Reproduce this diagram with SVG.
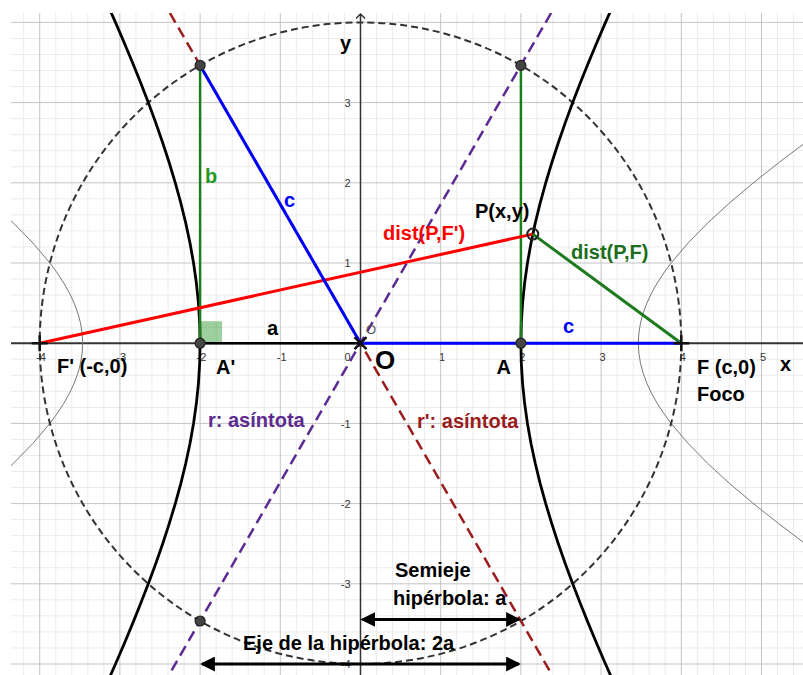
<svg xmlns="http://www.w3.org/2000/svg" width="803" height="675" viewBox="0 0 803 675">
<defs>
<clipPath id="plot"><rect x="11" y="13" width="792" height="662"/></clipPath>
<marker id="ah" markerUnits="userSpaceOnUse" markerWidth="15" markerHeight="15" viewBox="0 0 14 14" refX="12" refY="7" orient="auto-start-reverse"><path d="M0,0 L14,7 L0,14 Z" fill="#000"/></marker>
</defs>
<style>
.minor{stroke:#ebebeb;stroke-width:1;fill:none}
.major{stroke:#c4c4c4;stroke-width:1;fill:none}
.axis{stroke:#333;fill:none}
.tick{font-family:"Liberation Sans",Arial,sans-serif;font-size:11px;fill:#333}
.tx{text-anchor:middle}
.ty{text-anchor:end}
.lbl{font-family:"Liberation Sans",Arial,sans-serif;font-weight:bold;font-size:20px}
.big{font-size:26px}
.dot{fill:#444;stroke:#222;stroke-width:1.2}
.cross{stroke:#111;stroke-width:2.5;fill:none}
.dashc{stroke:#333;stroke-width:2;fill:none;stroke-dasharray:7 4}
.asym{stroke-width:2.5;fill:none;stroke-dasharray:11 6}
.hyp{stroke:#000;stroke-width:2.8;fill:none;stroke-linejoin:round}
.hyp2{stroke:#777;stroke-width:1;fill:none}
.arrow{stroke:#000;stroke-width:3;fill:none;marker-start:url(#ah);marker-end:url(#ah)}
</style>
<rect width="803" height="675" fill="#fff"/>
<g id="grid" clip-path="url(#plot)">
<path class="minor" d="M23.66 13V675M55.74 13V675M71.78 13V675M87.82 13V675M103.86 13V675M135.94 13V675M151.98 13V675M168.02 13V675M184.06 13V675M216.14 13V675M232.18 13V675M248.22 13V675M264.26 13V675M296.34 13V675M312.38 13V675M328.42 13V675M344.46 13V675M376.54 13V675M392.58 13V675M408.62 13V675M424.66 13V675M456.74 13V675M472.78 13V675M488.82 13V675M504.86 13V675M536.94 13V675M552.98 13V675M569.02 13V675M585.06 13V675M617.14 13V675M633.18 13V675M649.22 13V675M665.26 13V675M697.34 13V675M713.38 13V675M729.42 13V675M745.46 13V675M777.54 13V675M793.58 13V675
M11 38.44H803M11 54.48H803M11 70.52H803M11 86.56H803M11 118.64H803M11 134.68H803M11 150.72H803M11 166.76H803M11 198.84H803M11 214.88H803M11 230.92H803M11 246.96H803M11 279.04H803M11 295.08H803M11 311.12H803M11 327.16H803M11 359.24H803M11 375.28H803M11 391.32H803M11 407.36H803M11 439.44H803M11 455.48H803M11 471.52H803M11 487.56H803M11 519.64H803M11 535.68H803M11 551.72H803M11 567.76H803M11 599.84H803M11 615.88H803M11 631.92H803M11 647.96H803"/>
<path class="major" d="M39.7 13V675M119.9 13V675M200.1 13V675M280.3 13V675M440.7 13V675M520.9 13V675M601.1 13V675M681.3 13V675M761.5 13V675M11 22.4H803M11 102.6H803M11 182.8H803M11 263H803M11 423.4H803M11 503.6H803M11 583.8H803M11 664H803"/>
</g>
<g id="axes">
<path class="axis" stroke-width="2" d="M11 343.2H803"/>
<path class="axis" stroke-width="1.5" d="M360.5 14V675M356 18.5L360.5 14L365 18.5"/>
<g class="tick">
<text class="tx" x="41" y="360.5">-4</text>
<text class="tx" x="121.2" y="360.5">-3</text>
<text class="tx" x="201.5" y="360.5">-2</text>
<text class="tx" x="281.7" y="360.5">-1</text>
<text class="ty" x="350.5" y="360.5">0</text>
<text class="tx" x="442" y="360.5">1</text>
<text class="tx" x="522.3" y="360.5">2</text>
<text class="tx" x="602.5" y="360.5">3</text>
<text class="tx" x="682.7" y="360.5">4</text>
<text class="tx" x="763" y="360.5">5</text>
<text class="ty" x="350.5" y="106.8">3</text>
<text class="ty" x="350.5" y="187">2</text>
<text class="ty" x="350.5" y="267.2">1</text>
<text class="ty" x="350.5" y="427.6">-1</text>
<text class="ty" x="350.5" y="507.8">-2</text>
<text class="ty" x="350.5" y="588">-3</text>
<text class="ty" x="350.5" y="668.2">-4</text>
</g>
<text class="lbl" x="340" y="50">y</text>
<text class="lbl" x="780" y="371">x</text>
</g>
<g id="curves" clip-path="url(#plot)">
<path id="hyperbola-aux" class="hyp2" d="M805.23 543.7L778.68 523.65L753.4 503.6L729.66 483.55L707.78 463.5L688.12 443.45L671.11 423.4L663.75 413.38L657.21 403.35L651.57 393.33L646.87 383.3L643.16 373.28L640.48 363.25L638.86 353.23L638.32 343.2L638.86 333.18L640.48 323.15L643.16 313.13L646.87 303.1L651.57 293.08L657.21 283.05L663.75 273.03L671.11 263L688.12 242.95L707.78 222.9L729.66 202.85L753.4 182.8L778.68 162.75L805.23 142.7
M-8.66 483.55L13.22 463.5L32.88 443.45L49.89 423.4L57.25 413.38L63.79 403.35L69.43 393.33L74.13 383.3L77.84 373.28L80.52 363.25L82.14 353.23L82.68 343.2L82.14 333.18L80.52 323.15L77.84 313.13L74.13 303.1L69.43 293.08L63.79 283.05L57.25 273.03L49.89 263L32.88 242.95L13.22 222.9L-8.66 202.85"/>
<circle id="circle" class="dashc" cx="360.5" cy="343.2" r="320.8"/>
<path id="hyperbola" class="hyp" d="M614.38 684.05L605.52 664L596.89 643.95L588.52 623.9L580.44 603.85L572.69 583.8L565.3 563.75L558.31 543.7L551.77 523.65L545.71 503.6L540.21 483.55L535.29 463.5L531.02 443.45L527.45 423.4L524.62 403.35L522.56 383.3L521.32 363.25L520.9 343.2L521.32 323.15L522.56 303.1L524.62 283.05L527.45 263L531.02 242.95L535.29 222.9L540.21 202.85L545.71 182.8L551.77 162.75L558.31 142.7L565.3 122.65L572.69 102.6L580.44 82.55L588.52 62.5L596.89 42.45L605.52 22.4L614.38 2.35
M106.62 684.05L115.48 664L124.11 643.95L132.48 623.9L140.56 603.85L148.31 583.8L155.7 563.75L162.69 543.7L169.23 523.65L175.29 503.6L180.79 483.55L185.71 463.5L189.98 443.45L193.55 423.4L196.38 403.35L198.44 383.3L199.68 363.25L200.1 343.2L199.68 323.15L198.44 303.1L196.38 283.05L193.55 263L189.98 242.95L185.71 222.9L180.79 202.85L175.29 182.8L169.23 162.75L162.69 142.7L155.7 122.65L148.31 102.6L140.56 82.55L132.48 62.5L124.11 42.45L115.48 22.4L106.62 2.35"/>
<line id="asymptote-r" class="asym" stroke="#5c2a91" x1="551.1" y1="13" x2="168.9" y2="675"/>
<line id="asymptote-r2" class="asym" stroke="#9b1c1c" x1="169.9" y1="13" x2="552.1" y2="675"/>
</g>
<g id="segments">
<rect x="200.1" y="321.2" width="22" height="22" fill="#008000" fill-opacity="0.38"/>
<line x1="200.1" y1="343.2" x2="360.5" y2="343.2" stroke="#000" stroke-width="2.5"/>
<line id="seg-b-left" x1="200.1" y1="343.2" x2="200.1" y2="65.4" stroke="#1a7f1a" stroke-width="2.5"/>
<line id="seg-b-right" x1="520.9" y1="343.2" x2="520.9" y2="65.4" stroke="#1a7f1a" stroke-width="2.5"/>
<line id="dist-PF1" x1="39.7" y1="343.2" x2="532.8" y2="234.1" stroke="#ff0000" stroke-width="3"/>
<line id="dist-PF" x1="532.8" y1="234.1" x2="681.3" y2="343.2" stroke="#1e7a1e" stroke-width="3"/>
<line id="seg-c-left" x1="200.1" y1="65.4" x2="360.5" y2="343.2" stroke="#0000ff" stroke-width="3"/>
<line id="seg-c-right" x1="360.5" y1="343.2" x2="681.3" y2="343.2" stroke="#0000ff" stroke-width="3"/>
<line id="arrow-semieje" class="arrow" x1="362.5" y1="619.5" x2="519" y2="619.5"/>
<line id="arrow-eje" class="arrow" x1="202" y1="664" x2="519" y2="664"/>
</g>
<g id="points">
<circle class="dot" cx="200.1" cy="65.4" r="5"/>
<circle class="dot" cx="520.9" cy="65.4" r="5"/>
<circle class="dot" cx="200.1" cy="343.2" r="5"/>
<circle class="dot" cx="520.9" cy="343.2" r="5"/>
<circle class="dot" cx="200.1" cy="621" r="5"/>
<circle id="P" cx="532.8" cy="234.1" r="5.5" fill="none" stroke="#222" stroke-width="2"/>
<path id="F" class="cross" d="M673.3 343.2H689.3M681.3 335.2V351.2"/>
<path id="F1" class="cross" d="M31.7 343.2H47.7M39.7 335.2V351.2"/>
<path id="O" class="cross" d="M354.5 337.2L366.5 349.2M366.5 337.2L354.5 349.2"/>
</g>
<g id="labels">
<text class="lbl" x="205" y="183" fill="#229922">b</text>
<text class="lbl" x="284" y="207" fill="#0000ff">c</text>
<text class="lbl" x="563" y="333" fill="#0000ff">c</text>
<text class="lbl" x="267" y="335" fill="#000">a</text>
<text class="lbl" x="383" y="240" fill="#ff0000">dist(P,F')</text>
<text class="lbl" x="571" y="259" fill="#1b6e1b">dist(P,F)</text>
<text class="lbl" x="475" y="218" fill="#000">P(x,y)</text>
<text class="lbl" x="57" y="373" fill="#000">F' (-c,0)</text>
<text class="lbl" x="216" y="374" fill="#000">A'</text>
<text class="lbl" x="496.5" y="373.5" fill="#000">A</text>
<text class="lbl" x="697" y="374" fill="#000">F (c,0)</text>
<text class="lbl" x="697" y="401" fill="#000">Foco</text>
<text class="lbl big" x="375" y="368.5" fill="#000">O</text>
<text x="366" y="333.5" font-family="Liberation Sans, Arial, sans-serif" font-size="13" fill="#555">O</text>
<text class="lbl" x="208" y="427" fill="#5c2a91">r: asíntota</text>
<text class="lbl" x="417" y="428" fill="#9b1c1c">r': asíntota</text>
<text class="lbl" x="395" y="577" fill="#000">Semieje</text>
<text class="lbl" x="393" y="605" fill="#000">hipérbola: a</text>
<text class="lbl" x="243" y="650" fill="#000">Eje de la hipérbola: 2a</text>
</g>
</svg>
